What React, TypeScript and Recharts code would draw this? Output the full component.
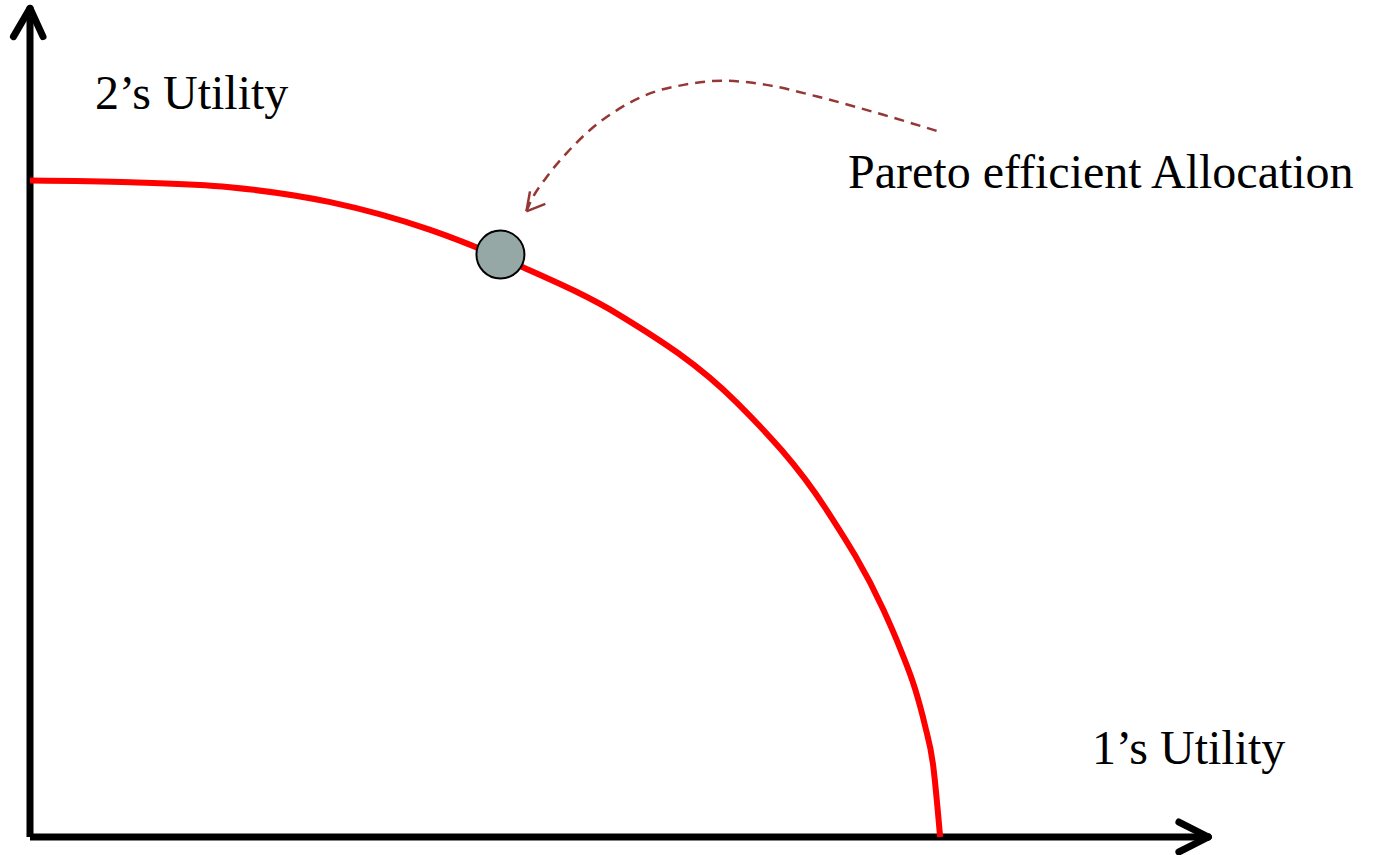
import { ComposedChart, Line, ReferenceDot, ReferenceLine, XAxis, YAxis } from "recharts"

// utility possibility frontier (1's utility -> 2's utility)
const frontier = [
  { x: 0, y: 78.9 },
  { x: 8.5, y: 78.7 },
  { x: 16.9, y: 78.1 },
  { x: 25.4, y: 76.3 },
  { x: 33.8, y: 73.0 },
  { x: 41.5, y: 68.6 },
  { x: 49.9, y: 62.7 },
  { x: 59.8, y: 52.2 },
  { x: 67.4, y: 39.3 },
  { x: 72.2, y: 27.3 },
  { x: 73.6, y: 22.7 },
  { x: 74.9, y: 17.7 },
  { x: 75.7, y: 13.5 },
  { x: 76.4, y: 8.7 },
  { x: 77.0, y: 0 },
]

// dashed pointer from the label to the efficient point
const pointer = [
  { x: 42.0, y: 75.2 },
  { x: 42.3, y: 76.2 },
  { x: 43.7, y: 79.3 },
  { x: 45.4, y: 82.2 },
  { x: 47.4, y: 85.0 },
  { x: 49.7, y: 87.4 },
  { x: 52.5, y: 89.4 },
  { x: 55.3, y: 90.4 },
  { x: 58.6, y: 90.9 },
  { x: 62.3, y: 90.4 },
  { x: 66.6, y: 89.0 },
  { x: 72.2, y: 86.8 },
  { x: 77.1, y: 84.7 },
]

const efficientPoint = { x: 39.8, y: 70.0 }

const axisLabels = [
  { text: "2\u2019s Utility", left: 95, top: 69 },
  { text: "Pareto efficient Allocation", left: 848, top: 148 },
  { text: "1\u2019s Utility", left: 1092, top: 724 },
]

const axisStyle = { stroke: "#000", strokeWidth: 7, strokeLinecap: "round" as const, ifOverflow: "visible" as const }
const pointerColor = "#953735"

export default function App() {
  return (
    <div style={{ position: "absolute", left: 0, top: 0, width: 1373, height: 855, background: "#fff" }}>
      <ComposedChart width={1373} height={855} margin={{ top: 5, right: 161, bottom: 18, left: 30 }}>
        <XAxis type="number" dataKey="x" domain={[0, 100]} hide />
        <YAxis type="number" dataKey="y" domain={[0, 100]} hide />

        {/* axes with arrow heads */}
        <ReferenceLine segment={[{ x: 0, y: 0 }, { x: 0, y: 99.6 }]} {...axisStyle} strokeLinecap="butt" />
        <ReferenceLine segment={[{ x: -1.4, y: 96.2 }, { x: 0, y: 99.6 }]} {...axisStyle} />
        <ReferenceLine segment={[{ x: 1.1, y: 96.2 }, { x: 0, y: 99.6 }]} {...axisStyle} />
        <ReferenceLine segment={[{ x: 0, y: 0 }, { x: 99.7, y: 0 }]} {...axisStyle} strokeLinecap="butt" />
        <ReferenceLine segment={[{ x: 97.2, y: 1.8 }, { x: 99.7, y: 0 }]} {...axisStyle} />
        <ReferenceLine segment={[{ x: 97.2, y: -1.8 }, { x: 99.7, y: 0 }]} {...axisStyle} />

        <Line
          data={pointer}
          dataKey="y"
          type="monotone"
          stroke={pointerColor}
          strokeWidth={2.5}
          strokeDasharray="10 7"
          dot={false}
          isAnimationActive={false}
        />
        <ReferenceLine segment={[{ x: 42.3, y: 77.6 }, { x: 42.0, y: 75.2 }]} stroke={pointerColor} strokeWidth={2.5} ifOverflow="visible" />
        <ReferenceLine segment={[{ x: 43.6, y: 76.1 }, { x: 42.0, y: 75.2 }]} stroke={pointerColor} strokeWidth={2.5} ifOverflow="visible" />

        <Line
          data={frontier}
          dataKey="y"
          type="monotone"
          stroke="#ff0000"
          strokeWidth={6}
          dot={false}
          isAnimationActive={false}
        />
        <ReferenceDot
          x={efficientPoint.x}
          y={efficientPoint.y}
          r={24}
          fill="#95a8a5"
          stroke="#000"
          strokeWidth={2}
          ifOverflow="visible"
        />
      </ComposedChart>
      {axisLabels.map((l) => (
        <div
          key={l.text}
          style={{
            position: "absolute",
            left: l.left,
            top: l.top,
            fontFamily: "'Liberation Serif', 'Times New Roman', serif",
            fontSize: 48,
            lineHeight: 1,
            whiteSpace: "nowrap",
            color: "#000",
          }}
        >
          {l.text}
        </div>
      ))}
    </div>
  )
}
